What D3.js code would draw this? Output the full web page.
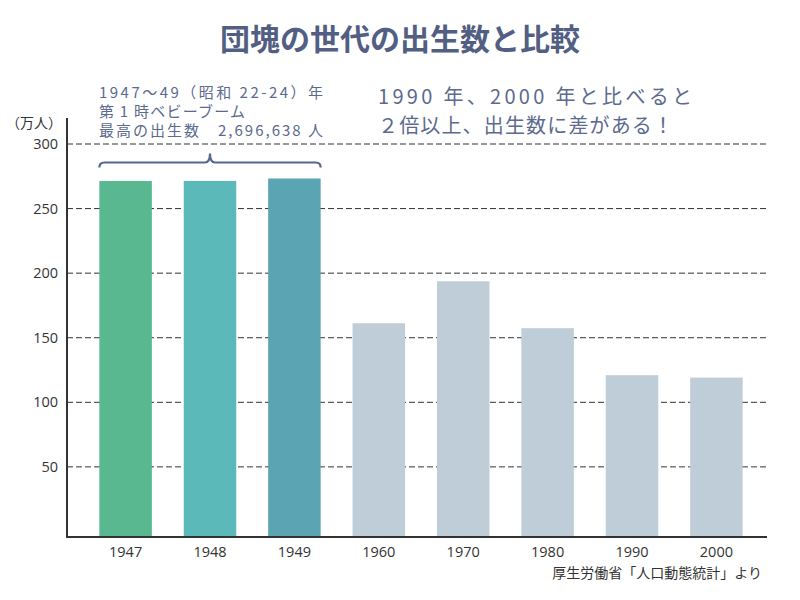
<!DOCTYPE html>
<html><head><meta charset="utf-8">
<script src="https://cdn.jsdelivr.net/npm/d3@7"></script>
<style>
html,body{margin:0;padding:0;background:#fff;}
svg{display:block;font-family:"Noto Sans CJK JP","Noto Sans",sans-serif;}
</style></head>
<body>
<svg id="chart" width="800" height="600"></svg>
<script>
const categories = ["1947","1948","1949","1960","1970","1980","1990","2000"];
const births = [271.4, 271.4, 273.3, 161.2, 193.7, 157.4, 121.0, 119.1];
const barColors = ["#5ab891","#5bb9b9","#5ba4b4","#bfcdd9","#bfcdd9","#bfcdd9","#bfcdd9","#bfcdd9"];
const yTicks = [50, 100, 150, 200, 250, 300];
const yUnit = "（万人）";
const title = "団塊の世代の出生数と比較";
const noteLeft = ["1947〜49（昭和 22-24）年", "第 1 時ベビーブーム", "最高の出生数　2,696,638 人"];
const noteRight = ["1990 年、2000 年と比べると", "２倍以上、出生数に差がある！"];
const source = "厚生労働省「人口動態統計」より";
const boomYears = ["1947","1948","1949"];
const yBase = -4.3;

const svg = d3.select("#chart");
const pLeft = 67, pRight = 767, pTop = 144, pBottom = 537;
// layout: rendered widths of the note lines
const noteLeftW = [224, 146, 224];
const noteRightW = [314, 295];

const x = d3.scaleBand().domain(categories).range([83.4, 758.6]).paddingInner(0.378).paddingOuter(0.189);
const y = d3.scaleLinear().domain([yBase, 300]).range([pBottom, pTop]);

// title
svg.append("text").attr("x", 400).attr("y", 50).attr("text-anchor", "middle")
  .attr("font-size", 30).attr("font-weight", "bold").attr("fill", "#525e82").text(title);

// gridlines
svg.append("g").selectAll("line").data(yTicks).join("line")
  .attr("x1", pLeft).attr("x2", pRight).attr("y1", d => y(d)).attr("y2", d => y(d))
  .attr("stroke", "#333").attr("stroke-width", 1).attr("stroke-dasharray", "6,3");

// bars
svg.append("g").selectAll("rect").data(categories).join("rect")
  .attr("x", d => x(d)).attr("width", x.bandwidth())
  .attr("y", (d, i) => y(births[i])).attr("height", (d, i) => y(yBase) - y(births[i]))
  .attr("fill", (d, i) => barColors[i]);

// y axis
const yAxis = d3.axisLeft(y).tickValues(yTicks).tickSize(0).tickPadding(9);
const gy = svg.append("g").attr("transform", `translate(${pLeft},0)`).call(yAxis);
gy.select(".domain").remove();
gy.selectAll("text").attr("font-size", 14.5).attr("fill", "#333").attr("font-family", "'Open Sans','Noto Sans',sans-serif");
svg.append("line").attr("x1", pLeft).attr("x2", pLeft).attr("y1", 118).attr("y2", pBottom + 1)
  .attr("stroke", "#333").attr("stroke-width", 2);

// x axis
const xAxis = d3.axisBottom(x).tickSize(0).tickPadding(10);
const gx = svg.append("g").attr("transform", `translate(0,${pBottom})`).call(xAxis);
gx.select(".domain").remove();
gx.selectAll("text").attr("font-size", 14.5).attr("fill", "#333").attr("font-family", "'Open Sans','Noto Sans',sans-serif");
svg.append("line").attr("x1", pLeft - 1).attr("x2", pRight).attr("y1", pBottom).attr("y2", pBottom)
  .attr("stroke", "#333").attr("stroke-width", 2);

// unit
svg.append("text").attr("x", 62).attr("y", 128).attr("text-anchor", "end")
  .attr("font-size", 14).attr("fill", "#333").text(yUnit);

// brace over boom years
const bx0 = x(boomYears[0]), bx1 = x(boomYears[boomYears.length - 1]) + x.bandwidth();
const bm = (bx0 + bx1) / 2, by = 162.5, r = 5;
const brace = d3.path();
brace.moveTo(bx0, by + r);
brace.quadraticCurveTo(bx0, by, bx0 + r, by);
brace.lineTo(bm - r, by);
brace.quadraticCurveTo(bm, by, bm, by - 9);
brace.quadraticCurveTo(bm, by, bm + r, by);
brace.lineTo(bx1 - r, by);
brace.quadraticCurveTo(bx1, by, bx1, by + r);
svg.append("path").attr("d", brace.toString()).attr("fill", "none")
  .attr("stroke", "#56668f").attr("stroke-width", 2.2);

// notes
svg.append("g").selectAll("text").data(noteLeft).join("text")
  .attr("x", 99).attr("y", (d, i) => 98 + i * 19)
  .attr("font-size", 15).attr("fill", "#5b6a8e")
  .attr("textLength", (d, i) => noteLeftW[i]).attr("lengthAdjust", "spacing")
  .text(d => d);
svg.append("g").selectAll("text").data(noteRight).join("text")
  .attr("x", 378).attr("y", (d, i) => 104 + i * 28.5)
  .attr("font-size", 20).attr("fill", "#5b6a8e")
  .attr("textLength", (d, i) => noteRightW[i]).attr("lengthAdjust", "spacing")
  .text(d => d);

// source
svg.append("text").attr("x", 762).attr("y", 578).attr("text-anchor", "end")
  .attr("font-size", 14).attr("fill", "#333").text(source);
</script>
</body></html>
